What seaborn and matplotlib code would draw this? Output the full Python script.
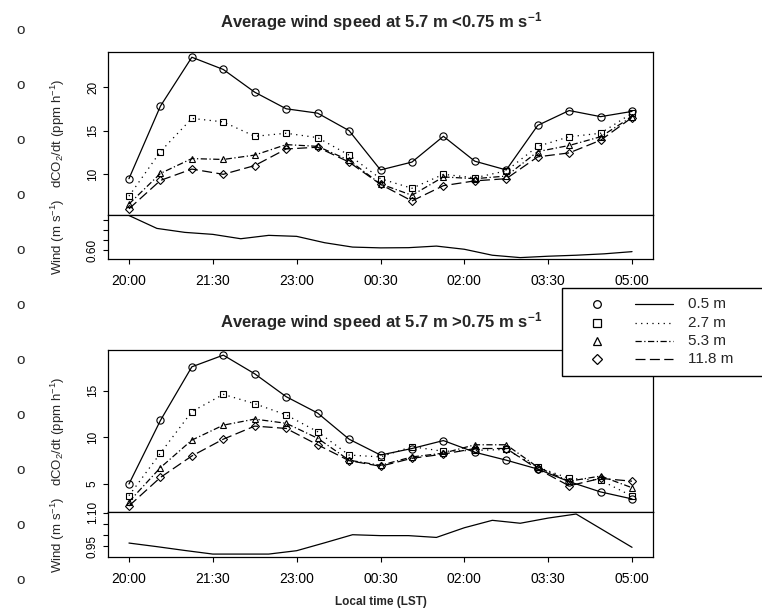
import numpy as np
import pandas as pd
import matplotlib
matplotlib.use("Agg")
import matplotlib.pyplot as plt
import seaborn as sns
from matplotlib.lines import Line2D
from matplotlib.patches import Rectangle

sns.set_style("white")
plt.rcParams["font.family"] = ["Liberation Sans", "DejaVu Sans"]
plt.rcParams["mathtext.default"] = "regular"

# ---------------- data ----------------
heights = ["0.5 m", "2.7 m", "5.3 m", "11.8 m"]

# main-series sample times (hours after 20:00)
times_main = [0.0, 0.5625, 1.125, 1.6875, 2.25, 2.8125, 3.375, 3.9375, 4.5,
              5.0625, 5.625, 6.1875, 6.75, 7.3125, 7.875, 8.4375, 9.0]
# wind sample times (hours after 20:00)
times_wind = [0.0, 0.5, 1.0, 1.5, 2.0, 2.5, 3.0, 3.5, 4.0, 4.5,
              5.0, 5.5, 6.0, 6.5, 7.0, 7.5, 8.0, 8.5, 9.0]

# low wind (<0.75 m/s)
low_05 = [9.5, 17.8, 23.4, 22.0, 19.4, 17.5, 17.0, 15.0, 10.5, 11.4, 14.35, 11.5, 10.5, 15.6, 17.3, 16.6, 17.2]
low_27 = [7.5, 12.6, 16.4, 16.0, 14.35, 14.7, 14.2, 12.2, 9.5, 8.4, 10.0, 9.6, 10.4, 13.2, 14.3, 14.7, 17.0]
low_53 = [6.6, 10.1, 11.8, 11.7, 12.2, 13.4, 13.2, 11.6, 8.9, 7.6, 9.7, 9.5, 9.8, 12.6, 13.3, 14.3, 16.6]
low_118 = [6.05, 9.3, 10.6, 10.0, 11.0, 12.9, 13.1, 11.4, 8.85, 6.95, 8.7, 9.25, 9.5, 12.0, 12.45, 13.9, 16.5]
low_wind = [0.774, 0.709, 0.689, 0.679, 0.657, 0.674, 0.669, 0.637, 0.615, 0.611,
            0.612, 0.620, 0.604, 0.574, 0.562, 0.569, 0.574, 0.581, 0.592]

# high wind (>0.75 m/s)
high_05 = [5.0, 11.8, 17.55, 18.8, 16.8, 14.35, 12.6, 9.8, 8.1, 8.8, 9.65, 8.4, 7.55, 6.6, 5.25, 4.15, 3.4]
high_27 = [3.75, 8.3, 12.75, 14.6, 13.6, 12.4, 10.6, 8.1, 7.9, 9.0, 8.5, 8.6, 8.7, 6.8, 5.6, 5.4, 3.7]
high_53 = [3.1, 6.75, 9.7, 11.3, 11.95, 11.5, 9.9, 7.55, 7.0, 7.9, 8.3, 9.2, 9.2, 6.8, 5.3, 5.85, 4.6]
high_118 = [2.65, 5.7, 8.0, 9.8, 11.2, 10.95, 9.2, 7.5, 6.9, 7.75, 8.2, 8.8, 8.8, 6.6, 4.8, 5.6, 5.3]
high_wind = [0.965, 0.949, 0.932, 0.916, 0.916, 0.916, 0.931, 0.966, 1.002, 0.998,
             0.998, 0.990, 1.033, 1.066, 1.053, 1.076, 1.094, 1.020, 0.946]

xtick_pos = [0.0, 1.5, 3.0, 4.5, 6.0, 7.5, 9.0]
xtick_labels = ["20:00", "21:30", "23:00", "00:30", "02:00", "03:30", "05:00"]

markers = {"0.5 m": "o", "2.7 m": "s", "5.3 m": "^", "11.8 m": "D"}
dashes = {"0.5 m": "", "2.7 m": (1, 3.5), "5.3 m": (5, 2, 1, 2), "11.8 m": (8, 3.5)}
msizes = {"0.5 m": 5.2, "2.7 m": 4.8, "5.3 m": 5.0, "11.8 m": 4.4}

# ---------------- figure ----------------
W, H = 762, 609
fig = plt.figure(figsize=(W / 100, H / 100), dpi=100)


def fx(px):
    return px / W


def fy(py):
    return 1 - py / H


L, R = 108, 653
XLIM = (-0.375, 9.375)


def make_axes(top, mid, bot):
    axm = fig.add_axes([fx(L), fy(mid), fx(R - L), (mid - top) / H])
    axw = fig.add_axes([fx(L), fy(bot), fx(R - L), (bot - mid) / H])
    return axm, axw


def style_axes(ax):
    for s in ax.spines.values():
        s.set_visible(True)
        s.set_color("black")
        s.set_linewidth(0.9)
    ax.set_xlim(*XLIM)
    ax.tick_params(axis="y", which="both", left=True, direction="out", length=3.5,
                   width=0.8, pad=3, labelsize=8.5, labelrotation=90, colors="black")


def draw_main(ax, series, ylim, yticks):
    df = pd.DataFrame({
        "time": times_main * 4,
        "value": sum(series, []),
        "height": [h for h in heights for _ in times_main],
    })
    for h in heights:
        sub = df[df["height"] == h]
        sns.lineplot(data=sub, x="time", y="value", color="black", lw=0.9,
                     marker=markers[h], dashes=False, errorbar=None,
                     markersize=msizes[h], markerfacecolor="none",
                     markeredgecolor="black", markeredgewidth=0.8,
                     legend=False, ax=ax)
        line = ax.get_lines()[-1]
        if dashes[h]:
            line.set_dashes(dashes[h])
    style_axes(ax)
    ax.set_ylim(*ylim)
    ax.set_yticks(yticks)
    ax.set_yticklabels([str(t) for t in yticks], va="center")
    ax.set_xticks([])
    ax.set_xlabel("")
    ax.set_ylabel("dCO$_2$/dt (ppm h$^{-1}$)", fontsize=9.5)
    ax.yaxis.set_label_coords((67 - L) / (R - L), 0.5)


def draw_wind(ax, values, ylim, yticks, ylabels):
    sns.lineplot(x=times_wind, y=values, color="black", lw=0.9, ax=ax,
                 errorbar=None, legend=False)
    style_axes(ax)
    ax.set_ylim(*ylim)
    ax.set_yticks(yticks)
    ax.set_yticklabels(ylabels, va="center")
    ax.set_xticks(xtick_pos)
    ax.set_xticklabels(xtick_labels)
    ax.tick_params(axis="x", bottom=True, direction="out", length=3.5, width=0.8,
                   pad=7, labelsize=10, colors="black")
    ax.set_xlabel("")
    ax.set_ylabel("Wind (m s$^{-1}$)", fontsize=9.5)
    ax.yaxis.set_label_coords((67 - L) / (R - L), 0.5)


ax1, ax1w = make_axes(52, 214.5, 259)
ax2, ax2w = make_axes(350, 512, 557)

draw_main(ax1, [low_05, low_27, low_53, low_118], (5.4, 24.0), [10, 15, 20])
draw_wind(ax1w, low_wind, (0.555, 0.779), [0.60, 0.65, 0.70, 0.75],
          ["0.60", "", "", ""])
draw_main(ax2, [high_05, high_27, high_53, high_118], (2.0, 19.35), [5, 10, 15])
draw_wind(ax2w, high_wind, (0.903, 1.103), [0.95, 1.00, 1.05, 1.10],
          ["0.95", "", "", "1.10"])

# titles
fig.text(fx(381), fy(22), "Average wind speed at 5.7 m <0.75 m s$^{-1}$",
         ha="center", va="center", fontsize=12, fontweight="bold")
fig.text(fx(381), fy(322), "Average wind speed at 5.7 m >0.75 m s$^{-1}$",
         ha="center", va="center", fontsize=12, fontweight="bold")
fig.text(fx(380.5), fy(602), "Local time (LST)", ha="center", va="center",
         fontsize=8.5, fontweight="bold")

# decorative margin circles
for py in [30, 85, 140, 195, 250, 305, 360, 415, 470, 525, 580]:
    fig.text(fx(21), fy(py), "o", ha="center", va="center", fontsize=11)

# legend box
fig.add_artist(Rectangle((fx(562), fy(376)), fx(790 - 562), (376 - 288) / H,
                         transform=fig.transFigure, facecolor="white",
                         edgecolor="black", linewidth=1.0, zorder=10))
rows = [304, 323, 341, 359]
for h, py in zip(heights, rows):
    fig.add_artist(Line2D([fx(597)], [fy(py)], transform=fig.transFigure,
                          marker=markers[h], markersize=msizes[h] + 0.3,
                          markerfacecolor="none", markeredgecolor="black",
                          markeredgewidth=0.9, linestyle="none", zorder=11))
    ln = Line2D([fx(635), fx(673)], [fy(py), fy(py)], transform=fig.transFigure,
                color="black", lw=0.9, zorder=11)
    if dashes[h]:
        ln.set_dashes(dashes[h])
    fig.add_artist(ln)
    fig.text(fx(688), fy(py), h, ha="left", va="center", fontsize=11, zorder=11)

fig.savefig("out.png", dpi=100)
